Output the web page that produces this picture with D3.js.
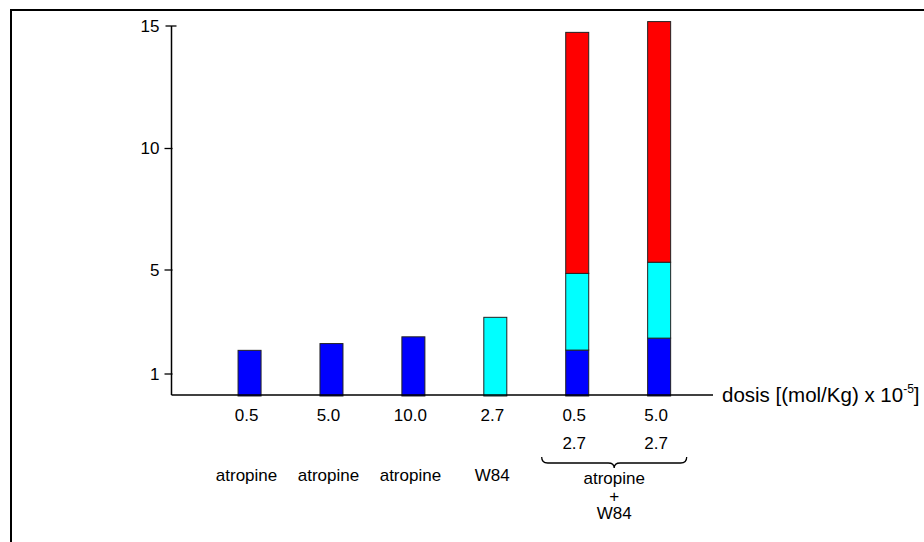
<!DOCTYPE html>
<html>
<head>
<meta charset="utf-8">
<script src="https://cdn.jsdelivr.net/npm/d3@7"></script>
<style>
  html, body { margin: 0; padding: 0; background: #fff; }
  svg text { font-family: "Liberation Sans", Arial, Helvetica, sans-serif; fill: #000; }
</style>
</head>
<body>
<svg id="chart" width="924" height="542"></svg>
<script>
// ---- data ----
const categories = ["atr-0.5", "atr-5.0", "atr-10.0", "w84-2.7", "mix-0.5", "mix-5.0"];
const doseLabels = ["0.5", "5.0", "10.0", "2.7", "0.5", "5.0"];
const doseLabels2 = ["", "", "", "", "2.7", "2.7"];
const drugLabels = ["atropine", "atropine", "atropine", "W84", "", ""];
const groupLabel = ["atropine", "+", "W84"];
const atropineValues = [1.91, 2.17, 2.43, 0, 1.92, 2.38];
const w84Values = [0, 0, 0, 3.18, 2.95, 2.94];
const extraValues = [0, 0, 0, 0, 9.87, 9.86];
const yTicks = [1, 5, 10, 15];
const seriesKeys = ["atropine", "w84", "extra"];
const seriesColors = ["#0000ff", "#00ffff", "#ff0000"];
const axisTitle = "dosis [(mol/Kg) x 10";
const axisTitleSup = "-5";

// ---- build ----
const svg = d3.select("#chart");

// frame (top + left)
svg.append("path")
  .attr("d", "M11,542 L11,10 L924,10")
  .attr("fill", "none").attr("stroke", "#000").attr("stroke-width", 2);

const x = d3.scalePoint().domain(categories).range([208.6, 700.1]).padding(0.5);
const y = d3.scaleLinear().domain([0, 1, 5, 10, 15]).range([396, 374, 270, 148.5, 26]);
const barW = 23;
const axisX = 171.5, axisY = 395;

const table = categories.map((c, i) => ({
  cat: c, atropine: atropineValues[i], w84: w84Values[i], extra: extraValues[i]
}));
const stacked = d3.stack().keys(seriesKeys)(table);

const color = d3.scaleOrdinal().domain(seriesKeys).range(seriesColors);

svg.append("g").selectAll("g")
  .data(stacked).join("g")
  .attr("fill", d => color(d.key))
  .selectAll("rect")
  .data(d => d.filter(s => s[1] - s[0] > 0))
  .join("rect")
  .attr("x", d => x(d.data.cat) - barW / 2)
  .attr("width", barW)
  .attr("y", d => y(d[1]))
  .attr("height", d => y(d[0]) - y(d[1]))
  .attr("stroke", "#222")
  .attr("stroke-width", 1);

// y axis
svg.append("line")
  .attr("x1", axisX).attr("x2", axisX)
  .attr("y1", y(15)).attr("y2", axisY)
  .attr("stroke", "#000").attr("stroke-width", 1.5);
const yt = svg.append("g").selectAll("g").data(yTicks).join("g")
  .attr("transform", d => `translate(0,${y(d)})`);
yt.append("line")
  .attr("x1", d => d === 15 ? axisX - 6 : axisX - 7)
  .attr("x2", d => d === 15 ? axisX + 5 : axisX + 1)
  .attr("stroke", "#000").attr("stroke-width", 1.3);
yt.append("text")
  .attr("x", axisX - 12).attr("text-anchor", "end")
  .attr("dy", "0.35em").attr("font-size", 17)
  .text(d => d);

// x axis
svg.append("line")
  .attr("x1", axisX).attr("x2", 713)
  .attr("y1", axisY).attr("y2", axisY)
  .attr("stroke", "#000").attr("stroke-width", 1.5);

const title = svg.append("text")
  .attr("x", 722).attr("y", axisY + 7)
  .attr("font-size", 20.5);
title.append("tspan").text(axisTitle);
title.append("tspan").attr("font-size", 12).attr("dy", -9).text(axisTitleSup);
title.append("tspan").attr("dy", 9).text("]");

// category labels
const lab = svg.append("g");
lab.selectAll("text.d1").data(categories).join("text")
  .attr("class", "d1")
  .attr("x", (c) => x(c) - 3).attr("y", 421)
  .attr("text-anchor", "middle").attr("font-size", 17)
  .text((c, i) => doseLabels[i]);
lab.selectAll("text.d2").data(categories.filter((c, i) => doseLabels2[i])).join("text")
  .attr("class", "d2")
  .attr("x", c => x(c) - 3).attr("y", 449)
  .attr("text-anchor", "middle").attr("font-size", 17)
  .text(c => doseLabels2[categories.indexOf(c)]);
lab.selectAll("text.d3").data(categories.filter((c, i) => drugLabels[i])).join("text")
  .attr("class", "d3")
  .attr("x", c => x(c) - 3).attr("y", 481)
  .attr("text-anchor", "middle").attr("font-size", 17)
  .text(c => drugLabels[categories.indexOf(c)]);

// brace for combination group
const c5 = x(categories[4]), c6 = x(categories[5]);
const mid = (c5 + c6) / 2 - 4, half = 72.5, by = 463;
svg.append("path")
  .attr("d", `M${mid - half},${by - 6} Q${mid - half},${by} ${mid - half + 6},${by}
              L${mid - 6},${by} Q${mid},${by} ${mid},${by + 5}
              Q${mid},${by} ${mid + 6},${by} L${mid + half - 6},${by}
              Q${mid + half},${by} ${mid + half},${by - 6}`)
  .attr("fill", "none").attr("stroke", "#000").attr("stroke-width", 1.3);

svg.append("g").selectAll("text").data(groupLabel).join("text")
  .attr("x", mid).attr("y", (d, i) => 484 + i * 17.5)
  .attr("text-anchor", "middle").attr("font-size", 17)
  .text(d => d);
</script>
</body>
</html>
